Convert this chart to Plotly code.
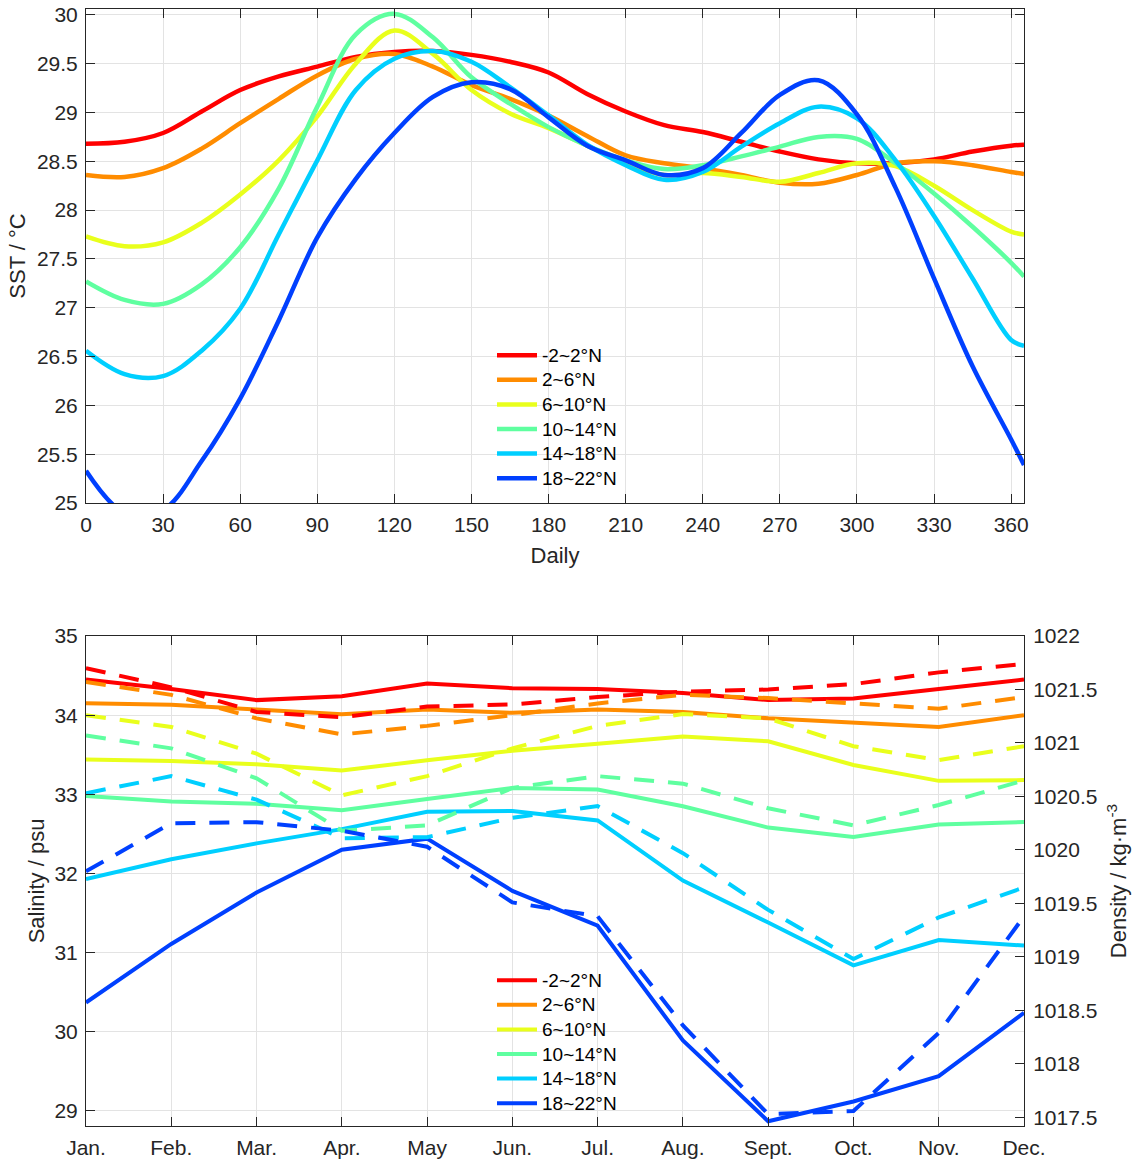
import plotly.graph_objects as go

# ---------------- data ----------------
labels = ["-2~2°N", "2~6°N", "6~10°N", "10~14°N", "14~18°N", "18~22°N"]
colors = ["#FF0000", "#FF8C00", "#E9FF1C", "#5FFFA0", "#00CFFF", "#0040FF"]

days = [0, 15, 30, 45, 60, 75, 90, 105, 120, 135, 150, 165, 180, 195, 210, 225,
        240, 255, 270, 285, 300, 315, 330, 345, 360, 365]

sst_r = [28.68, 28.70, 28.79, 29.01, 29.23, 29.37, 29.47, 29.57, 29.62, 29.63, 29.59, 29.52, 29.41,
         29.19, 29.01, 28.87, 28.80, 28.70, 28.60, 28.52, 28.48, 28.48, 28.52, 28.60, 28.66, 28.67]
sst_o = [28.36, 28.34, 28.43, 28.63, 28.89, 29.14, 29.38, 29.55, 29.60, 29.47, 29.28, 29.14, 28.97,
         28.76, 28.56, 28.48, 28.43, 28.36, 28.28, 28.27, 28.36, 28.48, 28.50, 28.46, 28.39, 28.37]
sst_y = [27.73, 27.63, 27.67, 27.87, 28.16, 28.51, 28.96, 29.50, 29.84, 29.60, 29.23, 28.99, 28.84,
         28.66, 28.48, 28.36, 28.38, 28.34, 28.29, 28.38, 28.48, 28.45, 28.25, 28.00, 27.78, 27.75]
sst_g = [27.27, 27.08, 27.04, 27.24, 27.62, 28.22, 29.06, 29.80, 30.01, 29.77, 29.36, 29.09, 28.85,
         28.66, 28.51, 28.42, 28.46, 28.55, 28.65, 28.75, 28.73, 28.48, 28.17, 27.83, 27.46, 27.32]
sst_c = [26.56, 26.32, 26.30, 26.56, 26.99, 27.75, 28.51, 29.23, 29.55, 29.63, 29.52, 29.26, 28.97,
         28.67, 28.46, 28.31, 28.39, 28.65, 28.89, 29.06, 28.94, 28.51, 27.94, 27.30, 26.67, 26.61]
sst_b = [25.33, 24.90, 24.93, 25.43, 26.07, 26.87, 27.72, 28.32, 28.79, 29.16, 29.31, 29.24, 28.95,
         28.66, 28.51, 28.36, 28.43, 28.79, 29.18, 29.33, 28.98, 28.23, 27.30, 26.40, 25.65, 25.39]
sst_all = [sst_r, sst_o, sst_y, sst_g, sst_c, sst_b]

months = [1, 2, 3, 4, 5, 6, 7, 8, 9, 10, 11, 12]
month_labels = ["Jan.", "Feb.", "Mar.", "Apr.", "May", "Jun.", "Jul.", "Aug.", "Sept.", "Oct.", "Nov.", "Dec."]

sal_r = [34.45, 34.33, 34.19, 34.24, 34.40, 34.34, 34.33, 34.28, 34.19, 34.21, 34.33, 34.45]
sal_o = [34.15, 34.13, 34.07, 34.01, 34.07, 34.03, 34.07, 34.04, 33.96, 33.90, 33.85, 34.00]
sal_y = [33.44, 33.42, 33.38, 33.30, 33.43, 33.55, 33.64, 33.73, 33.67, 33.37, 33.17, 33.18]
sal_g = [32.98, 32.91, 32.88, 32.80, 32.94, 33.08, 33.06, 32.85, 32.58, 32.46, 32.62, 32.65]
sal_c = [31.93, 32.18, 32.38, 32.56, 32.78, 32.79, 32.67, 31.91, 31.38, 30.84, 31.16, 31.09]
sal_b = [30.37, 31.11, 31.76, 32.30, 32.44, 31.78, 31.34, 29.89, 28.87, 29.12, 29.44, 30.24]
sal_all = [sal_r, sal_o, sal_y, sal_g, sal_c, sal_b]

den_r = [1021.70, 1021.52, 1021.29, 1021.24, 1021.34, 1021.36, 1021.43, 1021.48, 1021.50, 1021.55, 1021.66, 1021.74]
den_o = [1021.57, 1021.45, 1021.23, 1021.08, 1021.16, 1021.26, 1021.37, 1021.45, 1021.42, 1021.37, 1021.32, 1021.43]
den_y = [1021.26, 1021.15, 1020.90, 1020.51, 1020.69, 1020.95, 1021.16, 1021.27, 1021.23, 1020.97, 1020.84, 1020.97]
den_g = [1021.07, 1020.95, 1020.67, 1020.18, 1020.23, 1020.58, 1020.69, 1020.62, 1020.39, 1020.23, 1020.42, 1020.65]
den_c = [1020.53, 1020.69, 1020.47, 1020.11, 1020.12, 1020.30, 1020.41, 1019.97, 1019.44, 1018.98, 1019.37, 1019.65]
den_b = [1019.80, 1020.25, 1020.26, 1020.18, 1020.03, 1019.51, 1019.38, 1018.36, 1017.53, 1017.56, 1018.29, 1019.38]
den_all = [den_r, den_o, den_y, den_g, den_c, den_b]

sst_ticks = [25, 25.5, 26, 26.5, 27, 27.5, 28, 28.5, 29, 29.5, 30]
sst_ticktext = ["25", "25.5", "26", "26.5", "27", "27.5", "28", "28.5", "29", "29.5", "30"]
day_ticks = [0, 30, 60, 90, 120, 150, 180, 210, 240, 270, 300, 330, 360]
sal_ticks = [29, 30, 31, 32, 33, 34, 35]
den_ticks = [1017.5, 1018, 1018.5, 1019, 1019.5, 1020, 1020.5, 1021, 1021.5, 1022]
den_ticktext = ["1017.5", "1018", "1018.5", "1019", "1019.5", "1020", "1020.5", "1021", "1021.5", "1022"]

# ---------------- figure ----------------
W, H = 1138, 1162
FONT = "Liberation Sans, Arial, sans-serif"
AX = "#262626"
GRID = "#e3e3e3"


def fx(px):
    return px / W


def fy(py):
    return 1 - py / H


def leg_name(s):
    return "<span style='font-size:19px'>" + s + "</span>"


fig = go.Figure()

for lab, col, ys in zip(labels, colors, sst_all):
    fig.add_trace(go.Scatter(x=days, y=ys, mode="lines", name=leg_name(lab),
                             line=dict(color=col, width=4.5, shape="spline", smoothing=1.0),
                             xaxis="x", yaxis="y", legend="legend"))

for lab, col, ys in zip(labels, colors, sal_all):
    fig.add_trace(go.Scatter(x=months, y=ys, mode="lines", name=leg_name(lab),
                             line=dict(color=col, width=4),
                             xaxis="x2", yaxis="y2", legend="legend2"))

for lab, col, ys in zip(labels, colors, den_all):
    fig.add_trace(go.Scatter(x=months, y=ys, mode="lines", name=lab, showlegend=False,
                             line=dict(color=col, width=4, dash="20px,14px"),
                             xaxis="x2", yaxis="y3"))

xdom = [fx(86), fx(1024)]
top_dom = [fy(503), fy(9)]
bot_dom = [fy(1126), fy(636)]

tickfont = dict(family=FONT, size=21, color=AX)
titlefont = dict(family=FONT, size=22, color=AX)

common = dict(showline=True, linecolor=AX, linewidth=1, ticks="inside", ticklen=9,
              tickcolor=AX, tickwidth=1, tickfont=tickfont, zeroline=False,
              showgrid=True, gridcolor=GRID, gridwidth=1, automargin=False,
              ticklabelstandoff=3, ticklabeloverflow="allow")

legfont = dict(family=FONT, size=16.6, color="black")

fig.update_layout(
    width=W, height=H,
    margin=dict(l=0, r=0, t=0, b=0, autoexpand=False),
    paper_bgcolor="white", plot_bgcolor="white",
    font=dict(family=FONT, color=AX),
    xaxis=dict(domain=xdom, range=[0, 365], tickvals=day_ticks, mirror="ticks",
               title=dict(text="Daily", font=titlefont, standoff=12), anchor="y", **common),
    yaxis=dict(domain=top_dom, range=[25, 30.06], tickvals=sst_ticks, ticktext=sst_ticktext,
               mirror="ticks", title=dict(text="SST / °C", font=titlefont, standoff=5),
               anchor="x", **common),
    xaxis2=dict(domain=xdom, range=[1, 12], tickvals=months, ticktext=month_labels,
                mirror="ticks", anchor="y2", **common),
    yaxis2=dict(domain=bot_dom, range=[28.81, 35], tickvals=sal_ticks,
                title=dict(text="Salinity / psu", font=titlefont, standoff=3),
                anchor="x2", **common),
    yaxis3=dict(overlaying="y2", side="right", anchor="x2", range=[1017.42, 1022],
                tickvals=den_ticks, ticktext=den_ticktext, automargin=False,
                title=dict(text="Density / kg·m<sup>-3</sup>", font=titlefont, standoff=14),
                showline=True, linecolor=AX, linewidth=1, ticks="inside", ticklen=9,
                tickcolor=AX, tickfont=tickfont, showgrid=False, zeroline=False,
                ticklabelstandoff=4, ticklabeloverflow="allow"),
    legend=dict(x=fx(492), y=fy(338), xanchor="left", yanchor="top",
                bgcolor="rgba(0,0,0,0)", font=legfont, tracegroupgap=0, itemwidth=40),
    legend2=dict(x=fx(492), y=fy(963), xanchor="left", yanchor="top",
                 bgcolor="rgba(0,0,0,0)", font=legfont, tracegroupgap=0, itemwidth=40),
)

fig.write_html("out.html", config={"displayModeBar": False},
               post_script="document.body.style.margin='0';document.body.style.padding='0';")
